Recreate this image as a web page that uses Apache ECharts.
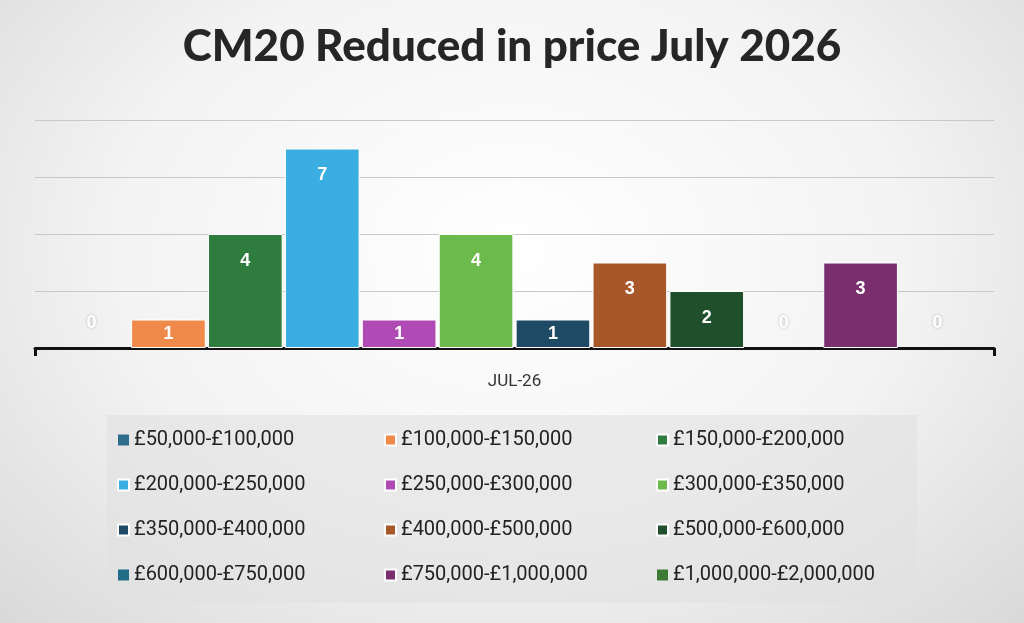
<!DOCTYPE html>
<html>
<head>
<meta charset="utf-8">
<script src="https://cdn.jsdelivr.net/npm/echarts@6/dist/echarts.min.js"></script>
<style>
  html,body{margin:0;padding:0;}
  body{background:radial-gradient(ellipse at 50% 40%, #ffffff 0%, #f3f3f3 55%, #d9d9d9 100%);}
  #chart{width:1024px;height:623px;}
</style>
</head>
<body>
<div id="chart"></div>
<script>
// 数据
var categories = ['JUL-26'];
var bands = ['£50,000-£100,000', '£100,000-£150,000', '£150,000-£200,000',
  '£200,000-£250,000', '£250,000-£300,000', '£300,000-£350,000',
  '£350,000-£400,000', '£400,000-£500,000', '£500,000-£600,000',
  '£600,000-£750,000', '£750,000-£1,000,000', '£1,000,000-£2,000,000'];
var counts = [0, 1, 4, 7, 1, 4, 1, 3, 2, 0, 3, 0];
var colors = ['#2f6d8c', '#f08a4b', '#2e7d3f', '#3aaee0', '#b04bb5', '#6cba4b',
  '#1f4a66', '#a8572a', '#1f4f2b', '#216d87', '#7a2e6e', '#3f7a35'];

(function () {
  var myChart = echarts.init(document.getElementById('chart'));

  var series = bands.map(function (name, i) {
    var v = counts[i];
    var label;
    if (v === 0) {
      label = { show: true, position: 'top', distance: 16, color: '#ffffff', fontSize: 18, fontWeight: 'bold',
        textShadowColor: 'rgba(0,0,0,0.25)', textShadowBlur: 3 };
    } else if (v === 1) {
      label = { show: true, position: 'inside', color: '#ffffff', fontSize: 18, fontWeight: 'bold' };
    } else {
      label = { show: true, position: 'insideTop', distance: 18, color: '#ffffff', fontSize: 18, fontWeight: 'bold' };
    }
    return {
      name: name,
      type: 'bar',
      barGap: '3%',
      barCategoryGap: '4%',
      itemStyle: { color: colors[i], borderColor: '#ffffff', borderWidth: v === 0 ? 0 : 1 },
      label: label,
      data: [v]
    };
  });

  // 图例 三列
  var colX = [112, 379, 651];
  var legends = colX.map(function (x, c) {
    var items = [];
    for (var r = 0; r < 4; r++) items.push(bands[r * 3 + c]);
    return {
      data: items,
      orient: 'vertical',
      left: x, top: 425,
      itemWidth: 11, itemHeight: 11, itemGap: 25,
      icon: 'rect',
      textStyle: { fontSize: 20, color: '#222', fontFamily: 'Roboto' }
    };
  });

  var option = {
    color: colors,
    title: {
      text: 'CM20 Reduced in price July 2026',
      left: 'center', top: 20,
      textStyle: { fontSize: 44, fontWeight: 900, color: '#262626', fontFamily: 'Lato' }
    },
    graphic: [{
      type: 'rect', left: 107, top: 415, z: -1,
      shape: { width: 810, height: 188 },
      style: { fill: 'rgba(225,225,225,0.6)' }
    }],
    grid: { left: 35, right: 30, top: 120, height: 228 },
    xAxis: {
      type: 'category',
      data: categories,
      axisLine: { lineStyle: { color: '#111', width: 3 } },
      axisTick: { show: true, length: 8, lineStyle: { color: '#111', width: 3 } },
      axisLabel: { margin: 25, fontSize: 17, color: '#333', fontFamily: 'Roboto' }
    },
    yAxis: {
      type: 'value', min: 0, max: 8, interval: 2,
      axisLabel: { show: false },
      splitLine: { lineStyle: { color: '#c8c8c8', width: 1 } }
    },
    legend: legends,
    series: series
  };

  myChart.setOption(option);
})();
</script>
</body>
</html>
